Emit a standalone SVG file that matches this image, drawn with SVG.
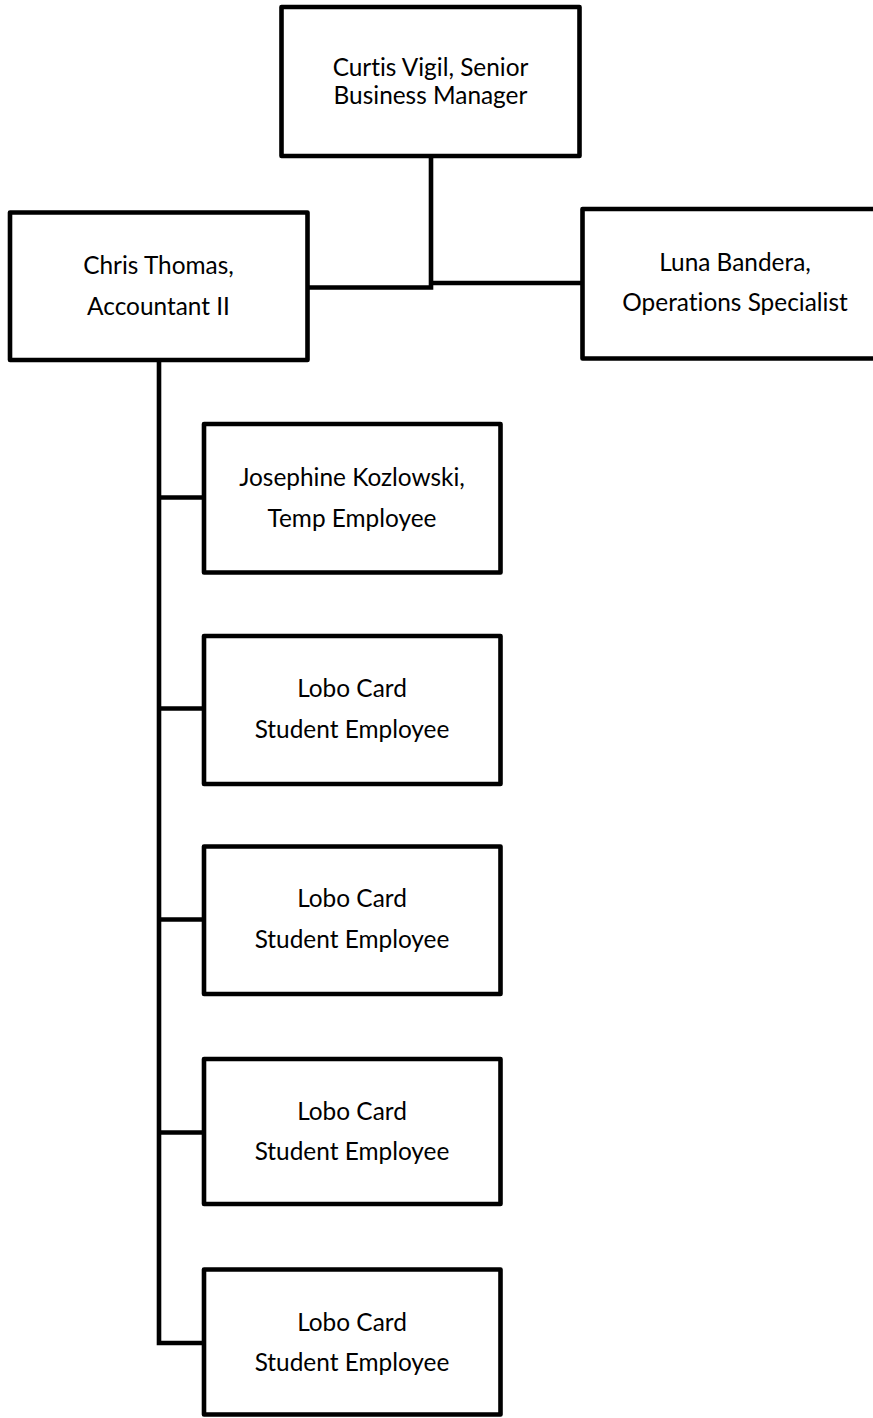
<svg xmlns="http://www.w3.org/2000/svg" width="873" height="1418" viewBox="0 0 873 1418">
  <style>
    .box { fill: #ffffff; stroke: #000000; stroke-width: 4.6; stroke-linejoin: round; }
    .link { fill: none; stroke: #000000; stroke-width: 4.6; stroke-linejoin: miter; }
    .label { font-family: Lato, "Open Sans", "Liberation Sans", sans-serif; font-size: 24.4px; fill: #000000; text-anchor: middle; font-variant-ligatures: none; }
  </style>
  <rect width="873" height="1418" fill="#ffffff"/>

  <!-- reporting lines -->
  <g id="connectors">
    <path class="link" d="M431,156 V287.5 H307.5"/>
    <path class="link" d="M431,283 H582.5"/>
    <path class="link" d="M159,360 V1343 H204"/>
    <path class="link" d="M159,497.5 H204"/>
    <path class="link" d="M159,708.5 H204"/>
    <path class="link" d="M159,919.5 H204"/>
    <path class="link" d="M159,1132.5 H204"/>
  </g>

  <g id="curtis-vigil">
    <rect class="box" x="281.5" y="7" width="298" height="149"/>
    <text class="label" x="430.5" y="76">Curtis Vigil, Senior</text>
    <text class="label" x="430.5" y="104">Business Manager</text>
  </g>

  <g id="chris-thomas">
    <rect class="box" x="10" y="212.5" width="297.5" height="147.5"/>
    <text class="label" x="158.5" y="274">Chris Thomas,</text>
    <text class="label" x="158.5" y="315">Accountant II</text>
  </g>

  <g id="luna-bandera">
    <rect class="box" x="582.5" y="209" width="305" height="149.5"/>
    <text class="label" x="735" y="271">Luna Bandera,</text>
    <text class="label" x="735" y="311">Operations Specialist</text>
  </g>

  <g id="josephine-kozlowski">
    <rect class="box" x="204" y="424" width="296.5" height="148.5"/>
    <text class="label" x="352" y="486">Josephine Kozlowski,</text>
    <text class="label" x="352" y="527">Temp Employee</text>
  </g>

  <g id="lobo-card-1">
    <rect class="box" x="204" y="636" width="296.5" height="148"/>
    <text class="label" x="352" y="697">Lobo Card</text>
    <text class="label" x="352" y="738">Student Employee</text>
  </g>

  <g id="lobo-card-2">
    <rect class="box" x="204" y="846.5" width="296.5" height="147.5"/>
    <text class="label" x="352" y="907">Lobo Card</text>
    <text class="label" x="352" y="948">Student Employee</text>
  </g>

  <g id="lobo-card-3">
    <rect class="box" x="204" y="1059" width="296.5" height="145"/>
    <text class="label" x="352" y="1120">Lobo Card</text>
    <text class="label" x="352" y="1160">Student Employee</text>
  </g>

  <g id="lobo-card-4">
    <rect class="box" x="204" y="1269.5" width="296.5" height="145"/>
    <text class="label" x="352" y="1331">Lobo Card</text>
    <text class="label" x="352" y="1371">Student Employee</text>
  </g>
</svg>
